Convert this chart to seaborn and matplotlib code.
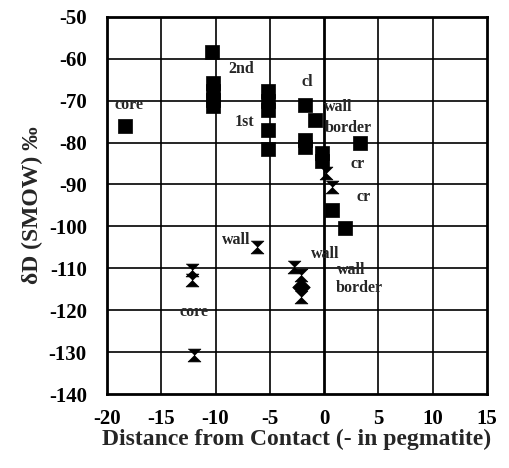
import matplotlib
matplotlib.use("Agg")
import matplotlib.pyplot as plt
import seaborn as sns
import pandas as pd

# ---- data ----
sq_x = [-18.3, -10.3, -10.2, -10.2, -10.2, -10.2, -5.2, -5.2, -5.2, -5.2, -5.2,
        -1.8, -0.8, -1.8, -1.8, -0.2, -0.2, 3.3, 0.7, 1.9]
sq_y = [-76, -58.3, -65.8, -67.8, -69.8, -71.3, -67.8, -70, -72.3, -77, -81.5,
        -71, -74.6, -79.5, -81, -82.5, -84.5, -80, -96, -100.4]
hg_x = [0.2, 0.7, -6.2, -12.2, -12.2, -12.0, -2.8, -2.1, -2.1]
hg_y = [-87.3, -90.5, -105, -110.4, -112.8, -130.7, -109.7, -111.6, -116.8]
dm_x = [-2.1]
dm_y = [-114.5]

labels = ["core", "2nd", "1st", "cl", "wall", "border", "cr", "cr",
          "wall", "wall", "wall", "border", "core"]
label_x = [-19.3, -8.8, -8.2, -2.1, 0.0, 0.1, 2.4, 3.0,
           -9.4, -1.2, 1.2, 1.1, -13.3]
label_y = [-71, -62.5, -75, -65.5, -71.6, -76.6, -85, -93,
           -103.3, -106.6, -110.5, -114.8, -120.4]

x_ticks = [-20, -15, -10, -5, 0, 5, 10, 15]
y_ticks = [-50, -60, -70, -80, -90, -100, -110, -120, -130, -140]
grid_x = [-15, -10, -5, 5, 10]
grid_y = [-60, -70, -80, -90, -100, -110, -120, -130]

df = pd.DataFrame({
    "x": sq_x + hg_x + dm_x,
    "y": sq_y + hg_y + dm_y,
    "kind": ["square"] * len(sq_x) + ["hourglass"] * len(hg_x) + ["diamond"] * len(dm_x),
})

sns.set_style("white")
plt.rcParams["font.family"] = ["Liberation Serif", "DejaVu Serif"]
plt.rcParams["font.weight"] = "bold"

fig = plt.figure(figsize=(5.1, 4.68), dpi=100)
ax = fig.add_axes([0.2098, 0.158, 0.745, 0.806])

hourglass = [(-1, 1), (1, 1), (0, 0), (1, -1), (-1, -1), (0, 0)]
sizes = {"square": 95, "hourglass": 85, "diamond": 80}
markers = {"square": "s", "hourglass": hourglass, "diamond": "D"}

ax.set_xlim(-20, 15)
ax.set_ylim(-140, -50)

ax.vlines(grid_x, -140, -50, colors="black", linewidths=1.2, zorder=3)
ax.hlines(grid_y, -20, 15, colors="black", linewidths=1.2, zorder=3)
ax.vlines([0], -140, -50, colors="black", linewidths=2.0, zorder=3)

for kind in ["square", "hourglass", "diamond"]:
    sub = df[df["kind"] == kind]
    sns.scatterplot(data=sub, x="x", y="y", marker=markers[kind], s=sizes[kind],
                    color="black", edgecolor="black", linewidth=0.5, ax=ax,
                    legend=False, zorder=5)

ax.set_xlim(-20, 15)
ax.set_ylim(-140, -50)
ax.set_xticks(x_ticks)
ax.set_yticks(y_ticks)
ax.set_xticklabels([str(t) for t in x_ticks], fontsize=15, fontweight="bold")
ax.set_yticklabels([str(t) for t in y_ticks], fontsize=15, fontweight="bold")

for s in ax.spines.values():
    s.set_visible(True)
    s.set_color("black")
    s.set_linewidth(2.0)

ax.tick_params(axis="both", direction="inout", length=5, width=1, colors="black")
ax.tick_params(axis="y", pad=12)
ax.tick_params(axis="x", pad=8)

for txt, lx, ly in zip(labels, label_x, label_y):
    ax.text(lx, ly, txt, fontsize=11.5, fontweight="bold", ha="left", va="center", zorder=6)

ax.set_xlabel("Distance from Contact (- in pegmatite)", fontsize=17, fontweight="bold", labelpad=0)
ax.set_ylabel("δD (SMOW) ‰", fontsize=17, fontweight="bold", labelpad=4)

fig.savefig("out.png", dpi=100)
